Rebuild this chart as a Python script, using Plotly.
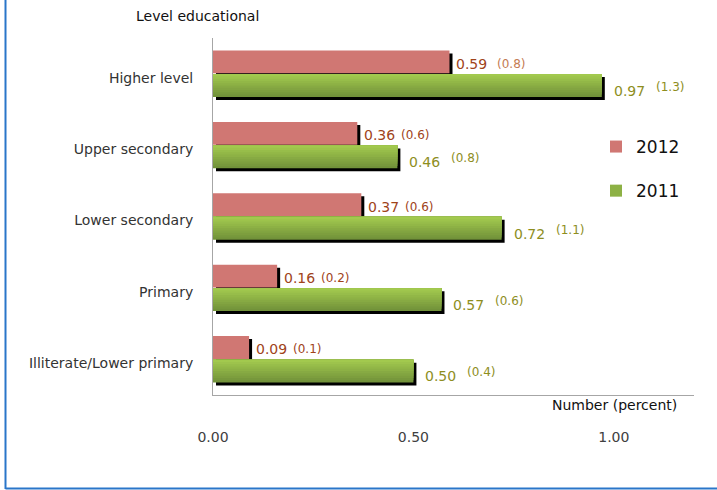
import plotly.graph_objects as go

# ---- data ----
categories = ["Higher level", "Upper secondary", "Lower secondary", "Primary", "Illiterate/Lower primary"]
values_2012 = [0.59, 0.36, 0.37, 0.16, 0.09]
values_2011 = [0.97, 0.46, 0.72, 0.57, 0.50]
paren_2012 = ["(0.8)", "(0.6)", "(0.6)", "(0.2)", "(0.1)"]
paren_2011 = ["(1.3)", "(0.8)", "(1.1)", "(0.6)", "(0.4)"]
x_ticks = [0.0, 0.5, 1.0]
x_tick_labels = ["0.00", "0.50", "1.00"]

# ---- styles ----
FONT = "DejaVu Sans"
RED = "#d07773"
GREEN_LIGHT = (162, 201, 78)
GREEN_DARK = (114, 146, 58)
TXT_2012 = "#a0431a"
TXT_2012_LIGHT = "#c47b52"
TXT_2011 = "#8e8e1e"
BAR_W = 0.32
OFF_2012 = 0.005
OFF_2011 = -0.325
SH_X = 0.0075   # shadow shift in data units (x)
SH_Y = 0.042    # shadow shift in category units (y)
N_GRAD = 10

W, H = 717, 490
ML, MR, MT, MB = 213, 23, 38, 95
PW = W - ML - MR
PH = H - MT - MB

fig = go.Figure()

def shadow(vals, offset):
    fig.add_trace(go.Bar(
        x=vals, y=categories, orientation="h",
        base=[SH_X] * len(vals),
        offset=offset - SH_Y, width=BAR_W,
        marker=dict(color="#000000", line=dict(width=0)),
        showlegend=False, hoverinfo="skip",
    ))

# 2012 series
shadow(values_2012, OFF_2012)
fig.add_trace(go.Bar(
    x=values_2012, y=categories, orientation="h", name="2012",
    offset=OFF_2012, width=BAR_W,
    marker=dict(color=RED, line=dict(width=0)),
    legendgroup="a",
))

# 2011 series (vertical gradient built from overlapping top-anchored strips)
shadow(values_2011, OFF_2011)
for k in range(N_GRAD):
    t = k / (N_GRAD - 1)
    c = tuple(round(GREEN_DARK[j] + (GREEN_LIGHT[j] - GREEN_DARK[j]) * t) for j in range(3))
    w = BAR_W * (N_GRAD - k) / N_GRAD
    fig.add_trace(go.Bar(
        x=values_2011, y=categories, orientation="h", name="2011",
        offset=OFF_2011 + BAR_W - w, width=w,
        marker=dict(color=f"rgb{c}", line=dict(width=0)),
        legendgroup="b", showlegend=(k == N_GRAD // 2),
    ))

annotations = []
for i, cat in enumerate(categories):
    v = values_2012[i]
    annotations.append(dict(x=v, y=cat, xref="x", yref="y", text=f"{v:.2f}",
                            showarrow=False, xanchor="left", yanchor="middle",
                            xshift=5, yshift=10, font=dict(family=FONT, size=14, color=TXT_2012)))
    annotations.append(dict(x=v, y=cat, xref="x", yref="y", text=paren_2012[i],
                            showarrow=False, xanchor="left", yanchor="middle",
                            xshift=5 + 31 + (10 if i == 0 else 6), yshift=10,
                            font=dict(family=FONT, size=12,
                                      color=TXT_2012_LIGHT if i == 0 else TXT_2012)))
    v = values_2011[i]
    annotations.append(dict(x=v, y=cat, xref="x", yref="y", text=f"{v:.2f}",
                            showarrow=False, xanchor="left", yanchor="middle",
                            xshift=10, yshift=-17, font=dict(family=FONT, size=14, color=TXT_2011)))
    annotations.append(dict(x=v, y=cat, xref="x", yref="y", text=paren_2011[i],
                            showarrow=False, xanchor="left", yanchor="middle",
                            xshift=10 + 31 + 11, yshift=-13,
                            font=dict(family=FONT, size=12, color=TXT_2011)))

def px_x(p):
    return (p - ML) / PW

def px_y(p):
    return (MT + PH - p) / PH

annotations.append(dict(x=px_x(197), y=px_y(16), xref="paper", yref="paper",
                        text="Level educational", showarrow=False,
                        xanchor="center", yanchor="middle",
                        font=dict(family=FONT, size=14, color="#111111")))
annotations.append(dict(x=px_x(679), y=px_y(405), xref="paper", yref="paper",
                        text="Number (percent)", showarrow=False,
                        xanchor="right", yanchor="middle",
                        font=dict(family=FONT, size=14, color="#111111")))

shapes = [
    dict(type="line", xref="paper", yref="paper", x0=px_x(5.5), x1=px_x(5.5), y0=px_y(0), y1=px_y(489),
         line=dict(color="#2a76c9", width=2)),
    dict(type="line", xref="paper", yref="paper", x0=px_x(5.5), x1=px_x(717), y0=px_y(488.5), y1=px_y(488.5),
         line=dict(color="#2a76c9", width=2)),
]

fig.update_layout(
    width=W, height=H,
    margin=dict(l=ML, r=MR, t=MT, b=MB),
    paper_bgcolor="white", plot_bgcolor="white",
    barmode="overlay",
    font=dict(family=FONT, size=14, color="#333333"),
    showlegend=True,
    legend=dict(x=px_x(596), y=px_y(129), xanchor="left", yanchor="top",
                traceorder="grouped", tracegroupgap=19,
                font=dict(family=FONT, size=17, color="#111111"),
                bgcolor="rgba(0,0,0,0)"),
    annotations=annotations,
    shapes=shapes,
    hovermode=False,
)
fig.update_xaxes(range=[0, 1.2], tickvals=x_ticks, ticktext=x_tick_labels,
                 showgrid=False, zeroline=False, showline=True, linecolor="#a6a6a6", linewidth=1,
                 ticks="", ticklabelstandoff=29,
                 tickfont=dict(family=FONT, size=14, color="#404040"))
fig.update_yaxes(type="category", categoryorder="array", categoryarray=categories[::-1],
                 range=[-0.5, len(categories) - 0.5],
                 showgrid=False, zeroline=False, showline=True, linecolor="#a6a6a6", linewidth=1,
                 ticks="", ticklabelstandoff=16, ticklabelshift=4,
                 tickfont=dict(family=FONT, size=14, color="#333333"))

fig.write_html("out.html", config={"displayModeBar": False},
               post_script="document.body.style.margin='0';document.body.style.overflow='hidden';")
